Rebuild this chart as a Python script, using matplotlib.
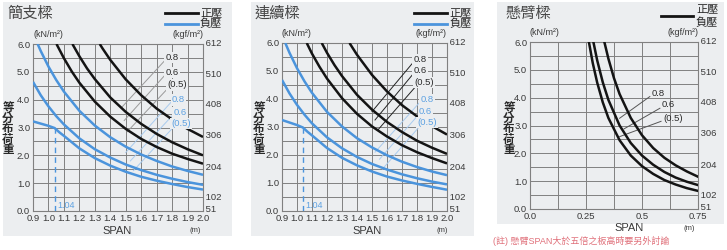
import matplotlib
matplotlib.use("Agg")
import matplotlib.pyplot as plt  # noqa: E402
from matplotlib.patches import Rectangle  # noqa: E402
import matplotlib.transforms as mtransforms  # noqa: E402

plt.rcParams['font.family'] = ['Liberation Sans', 'Noto Sans CJK TC', 'DejaVu Sans']

W, H = 727, 250

# ---- data: 簡支樑 (simple span) ----
ss_pos_span_08 = [1.332, 1.35, 1.4, 1.5, 1.6, 1.7, 1.8, 1.9, 2.0]
ss_pos_load_08 = [6.0, 5.84, 5.43, 4.73, 4.16, 3.68, 3.29, 2.95, 2.66]
ss_pos_span_06 = [1.155, 1.2, 1.25, 1.3, 1.4, 1.5, 1.6, 1.7, 1.8, 1.9, 2.0]
ss_pos_load_06 = [6.0, 5.56, 5.12, 4.74, 4.08, 3.56, 3.13, 2.77, 2.47, 2.22, 2.00]
ss_pos_span_05 = [1.052, 1.1, 1.15, 1.2, 1.3, 1.4, 1.5, 1.6, 1.7, 1.8, 1.9, 2.0]
ss_pos_load_05 = [6.0, 5.49, 5.02, 4.61, 3.93, 3.39, 2.95, 2.59, 2.30, 2.06, 1.87, 1.70]

ss_neg_span_08 = [0.93, 0.95, 1.0, 1.05, 1.1, 1.2, 1.3, 1.4, 1.5, 1.6, 1.7, 1.8, 1.9, 2.0]
ss_neg_load_08 = [6.0, 5.75, 5.19, 4.71, 4.29, 3.60, 3.07, 2.65, 2.31, 2.03, 1.80, 1.60, 1.44, 1.30]
ss_neg_span_06 = [0.9, 0.95, 1.0, 1.05, 1.1, 1.2, 1.3, 1.4, 1.5, 1.6, 1.7, 1.8, 1.9, 2.0]
ss_neg_load_06 = [4.64, 4.16, 3.76, 3.41, 3.11, 2.61, 2.22, 1.92, 1.67, 1.47, 1.30, 1.16, 1.04, 0.94]
ss_neg_span_05 = [0.9, 0.95, 1.0, 1.04, 1.07, 1.1, 1.2, 1.3, 1.4, 1.5, 1.6, 1.7, 1.8, 1.9, 2.0]
ss_neg_load_05 = [3.22, 3.14, 3.06, 2.98, 2.83, 2.70, 2.25, 1.90, 1.63, 1.41, 1.23, 1.09, 0.97, 0.86, 0.77]

# ---- data: 連續樑 (continuous span) ----
cs_pos_span_08 = [1.35, 1.4, 1.5, 1.6, 1.7, 1.8, 1.9, 2.0]
cs_pos_load_08 = [6.0, 5.58, 4.86, 4.27, 3.78, 3.38, 3.03, 2.73]
cs_pos_span_06 = [1.165, 1.2, 1.25, 1.3, 1.4, 1.5, 1.6, 1.7, 1.8, 1.9, 2.0]
cs_pos_load_06 = [6.0, 5.65, 5.21, 4.82, 4.15, 3.62, 3.18, 2.82, 2.51, 2.26, 2.04]
cs_pos_span_05 = [1.065, 1.1, 1.15, 1.2, 1.3, 1.4, 1.5, 1.6, 1.7, 1.8, 1.9, 2.0]
cs_pos_load_05 = [6.0, 5.62, 5.15, 4.73, 4.03, 3.47, 3.02, 2.66, 2.35, 2.10, 1.89, 1.70]

cs_neg_span_08 = [0.922, 0.95, 1.0, 1.05, 1.1, 1.2, 1.3, 1.4, 1.5, 1.6, 1.7, 1.8, 1.9, 2.0]
cs_neg_load_08 = [6.0, 5.65, 5.10, 4.63, 4.22, 3.54, 3.02, 2.60, 2.27, 1.99, 1.76, 1.57, 1.41, 1.28]
cs_neg_span_06 = [0.9, 0.95, 1.0, 1.05, 1.1, 1.2, 1.3, 1.4, 1.5, 1.6, 1.7, 1.8, 1.9, 2.0]
cs_neg_load_06 = [4.68, 4.20, 3.79, 3.44, 3.13, 2.63, 2.24, 1.93, 1.68, 1.48, 1.31, 1.17, 1.05, 0.95]
cs_neg_span_05 = [0.9, 0.95, 1.0, 1.04, 1.07, 1.1, 1.2, 1.3, 1.4, 1.5, 1.6, 1.7, 1.8, 1.9, 2.0]
cs_neg_load_05 = [3.25, 3.16, 3.07, 2.98, 2.83, 2.70, 2.25, 1.90, 1.63, 1.41, 1.23, 1.09, 0.97, 0.86, 0.76]

# ---- data: 懸臂樑 (cantilever) ----
cl_span_08 = [0.332, 0.35, 0.375, 0.4, 0.45, 0.5, 0.55, 0.6, 0.65, 0.7, 0.75]
cl_load_08 = [6.0, 5.40, 4.70, 4.13, 3.27, 2.65, 2.19, 1.84, 1.57, 1.35, 1.16]
cl_span_06 = [0.283, 0.3, 0.325, 0.35, 0.4, 0.45, 0.5, 0.55, 0.6, 0.65, 0.7, 0.75]
cl_load_06 = [6.0, 5.34, 4.55, 3.92, 3.00, 2.37, 1.92, 1.59, 1.33, 1.13, 0.98, 0.86]
cl_span_05 = [0.263, 0.28, 0.3, 0.325, 0.35, 0.4, 0.45, 0.5, 0.55, 0.6, 0.65, 0.7, 0.75]
cl_load_05 = [6.0, 5.25, 4.54, 3.83, 3.27, 2.47, 1.92, 1.54, 1.26, 1.04, 0.88, 0.75, 0.65]

thickness_labels = ['0.8', '0.6', '(0.5)']
left_ticks = [0, 1, 2, 3, 4, 5, 6]
left_tick_labels = ['0.0', '1.0', '2.0', '3.0', '4.0', '5.0', '6.0']
right_tick_labels = ['612', '510', '408', '306', '204', '102', '51']
right_tick_pos = [6.02, 4.92, 3.84, 2.70, 1.56, 0.50, 0.05]
span_ticks = [0.9, 1.0, 1.1, 1.2, 1.3, 1.4, 1.5, 1.6, 1.7, 1.8, 1.9, 2.0]
span_tick_labels = ['0.9', '1.0', '1.1', '1.2', '1.3', '1.4', '1.5', '1.6', '1.7', '1.8', '1.9', '2.0']
cl_ticks = [0.0, 0.125, 0.25, 0.375, 0.5, 0.625, 0.75]
cl_tick_labels = ['0.0', '', '0.25', '', '0.5', '', '0.75']
plateau_span = 1.04

BG = '#eceef0'
BLACK = '#141414'
BLUE = '#4b94dc'
BLUE_TXT = '#5ea2e2'
BLUE_LEAD = '#a9cbee'
GRID = '#808080'
TXT = '#3a3a3a'


def fx(x):
    return x / W


def fy(y):
    return 1 - y / H


fig = plt.figure(figsize=(W / 100, H / 100), dpi=100)
fig.patch.set_facecolor('white')

# panel boxes (pixel coords: x0, y0, x1, y1)
for x0, y0, x1, y1 in [(3, 2, 232, 236), (251, 2, 474, 236), (497, 2, 724, 224)]:
    fig.patches.append(Rectangle((fx(x0), fy(y1)), fx(x1 - x0), (y1 - y0) / H,
                                 transform=fig.transFigure, facecolor=BG,
                                 edgecolor='none', zorder=-5))


def make_axes(x0, y0, x1, y1, xlim, xticks, xlabels, ylim_top=6.0):
    ax = fig.add_axes([fx(x0), fy(y1), fx(x1 - x0), (y1 - y0) / H])
    ax.patch.set_alpha(0)
    ax.set_xlim(*xlim)
    ax.set_ylim(0, ylim_top)
    ax.set_xticks(xticks)
    ax.set_xticklabels(xlabels)
    ax.set_yticks(left_ticks)
    ax.set_yticklabels(left_tick_labels)
    ax.set_yticks([v + 0.5 for v in left_ticks[:-1]], minor=True)
    ax.grid(True, which='both', color=GRID, lw=0.7)
    ax.tick_params(which='both', length=0, labelsize=6.8, colors=TXT, pad=2)
    for s in ax.spines.values():
        s.set_color(GRID)
        s.set_linewidth(0.8)
    ax.set_axisbelow(True)
    # right-hand kgf/m2 labels
    trans = mtransforms.blended_transform_factory(ax.transAxes, ax.transData)
    for lab, pos in zip(right_tick_labels, right_tick_pos):
        ax.text(1.0, pos, ' ' + lab, transform=trans, ha='left', va='center',
                fontsize=6.8, color=TXT, clip_on=False)
    ax.text(0.0, 1.03, '(kN/m²)', transform=ax.transAxes, ha='left', va='bottom',
            fontsize=6.5, color=TXT)
    ax.text(1.0, 1.03, '(kgf/m²)', transform=ax.transAxes, ha='right', va='bottom',
            fontsize=6.5, color=TXT)
    return ax


def side_text(title, tx, ylab_x, legend_x, neg_line=True):
    fig.text(fx(tx), fy(14), title, fontsize=11, color='#454545', va='center')
    for i, ch in enumerate('等分布荷重'):
        fig.text(fx(ylab_x), fy(108 + i * 10.5), ch, fontsize=8.3, color='#2a2a2a',
                 ha='center', va='center', fontweight='bold')
    if neg_line:
        fig.add_artist(plt.Line2D([fx(legend_x), fx(legend_x + 33)], [fy(13), fy(13)],
                                  color=BLACK, lw=2.0, transform=fig.transFigure))
        fig.add_artist(plt.Line2D([fx(legend_x), fx(legend_x + 33)], [fy(24), fy(24)],
                                  color=BLUE, lw=2.0, transform=fig.transFigure))
        fig.text(fx(legend_x + 35), fy(13), '正壓', fontsize=8, color='#2a2a2a', va='center')
        fig.text(fx(legend_x + 35), fy(24), '負壓', fontsize=8, color='#2a2a2a', va='center')
    else:
        fig.add_artist(plt.Line2D([fx(legend_x), fx(legend_x + 32)], [fy(16), fy(16)],
                                  color=BLACK, lw=2.0, transform=fig.transFigure))
        fig.text(fx(legend_x + 35), fy(9), '正壓', fontsize=8, color='#2a2a2a', va='center')
        fig.text(fx(legend_x + 35), fy(23), '負壓', fontsize=8, color='#2a2a2a', va='center')


def curve_labels(ax, pos_xy, neg_xy, pos_leads, neg_leads, lead_col):
    for (x, y), lab in zip(pos_xy, thickness_labels):
        ax.text(x, y, lab, fontsize=6.8, color='#2a2a2a', ha='center', va='center', zorder=6,
                bbox=dict(boxstyle='square,pad=0.12', fc=BG, ec='none'))
    for (x, y), lab in zip(neg_xy, thickness_labels):
        ax.text(x, y, lab, fontsize=6.8, color=BLUE_TXT, ha='center', va='center', zorder=6,
                bbox=dict(boxstyle='square,pad=0.12', fc=BG, ec='none'))
    for (x0, y0), (x1, y1) in pos_leads:
        ax.plot([x0, x1], [y0, y1], color=lead_col, lw=0.7, zorder=4)
    for (x0, y0), (x1, y1) in neg_leads:
        ax.plot([x0, x1], [y0, y1], color=BLUE_LEAD, lw=0.7, zorder=4)


def beam_panel(ax, pos, neg):
    for s, l in pos:
        ax.plot(s, l, color=BLACK, lw=1.8, zorder=5, solid_capstyle='butt')
    for s, l in neg:
        ax.plot(s, l, color=BLUE, lw=1.8, zorder=5, solid_capstyle='butt')
    ax.plot([plateau_span, plateau_span], [0, 2.98], color=BLUE, lw=1.0,
            ls=(0, (4, 3)), zorder=5)
    ax.text(plateau_span + 0.015, 0.2, str(plateau_span), color=BLUE_TXT, fontsize=6.5,
            ha='left', va='center', zorder=6)


def span_labels(ax, spx, mx, y):
    fig.text(fx(spx), fy(y), 'SPAN', fontsize=8, color=TXT, ha='center', va='center')
    fig.text(fx(mx), fy(y), '(m)', fontsize=5.5, color=TXT, ha='center', va='center')


# ---- panel 1: 簡支樑 ----
ax1 = make_axes(33, 44, 203, 211, (0.9, 2.0), span_ticks, span_tick_labels)
beam_panel(ax1,
           [(ss_pos_span_08, ss_pos_load_08), (ss_pos_span_06, ss_pos_load_06),
            (ss_pos_span_05, ss_pos_load_05)],
           [(ss_neg_span_08, ss_neg_load_08), (ss_neg_span_06, ss_neg_load_06),
            (ss_neg_span_05, ss_neg_load_05)])
curve_labels(ax1,
             [(1.80, 5.52), (1.80, 4.98), (1.83, 4.53)],
             [(1.84, 3.99), (1.85, 3.53), (1.86, 3.15)],
             [((1.76, 5.45), (1.47, 3.70)), ((1.76, 4.92), (1.49, 3.25)),
              ((1.78, 4.45), (1.51, 2.85))],
             [((1.80, 3.95), (1.50, 2.10)), ((1.81, 3.48), (1.53, 1.80)),
              ((1.82, 3.08), (1.55, 1.45))],
             '#9a9a9a')
side_text('簡支樑', 7, 8, 165)
span_labels(ax1, 117, 195, 231)

# ---- panel 2: 連續樑 ----
ax2 = make_axes(282, 43, 447, 211, (0.9, 2.0), span_ticks, span_tick_labels)
beam_panel(ax2,
           [(cs_pos_span_08, cs_pos_load_08), (cs_pos_span_06, cs_pos_load_06),
            (cs_pos_span_05, cs_pos_load_05)],
           [(cs_neg_span_08, cs_neg_load_08), (cs_neg_span_06, cs_neg_load_06),
            (cs_neg_span_05, cs_neg_load_05)])
curve_labels(ax2,
             [(1.82, 5.42), (1.82, 5.00), (1.845, 4.58)],
             [(1.867, 3.99), (1.855, 3.57), (1.867, 3.15)],
             [((1.778, 5.33), (1.50, 3.55)), ((1.778, 4.92), (1.52, 3.25)),
              ((1.80, 4.50), (1.54, 2.90))],
             [((1.83, 3.95), (1.52, 2.10)), ((1.82, 3.50), (1.55, 1.85)),
              ((1.83, 3.10), (1.57, 1.50))],
             '#222222')
side_text('連續樑', 255, 259, 414)
span_labels(ax2, 367, 442, 231)

# ---- panel 3: 懸臂樑 ----
ax3 = make_axes(530, 42, 698, 209, (0.0, 0.75), cl_ticks, cl_tick_labels)
for s, l in [(cl_span_08, cl_load_08), (cl_span_06, cl_load_06), (cl_span_05, cl_load_05)]:
    ax3.plot(s, l, color=BLACK, lw=1.8, zorder=5)
for (x, y), lab in zip([(0.543, 4.16), (0.588, 3.74), (0.594, 3.24)], thickness_labels):
    ax3.text(x, y, lab, fontsize=6.8, color='#2a2a2a', ha='left', va='center', zorder=6)
for (x0, y0), (x1, y1) in [((0.535, 4.04), (0.40, 3.26)), ((0.58, 3.62), (0.42, 2.88)),
                           ((0.585, 3.15), (0.40, 2.60))]:
    ax3.plot([x0, x1], [y0, y1], color='#555555', lw=0.7, zorder=4)
side_text('懸臂樑', 506, 509, 661, neg_line=False)
span_labels(ax3, 629, 689, 228)

fig.text(fx(493), fy(241), '(註) 懸臂SPAN大於五倍之板高時要另外討論', fontsize=6.5,
         color='#e0707a', va='center')

fig.savefig('out.png', dpi=100, facecolor='white')
